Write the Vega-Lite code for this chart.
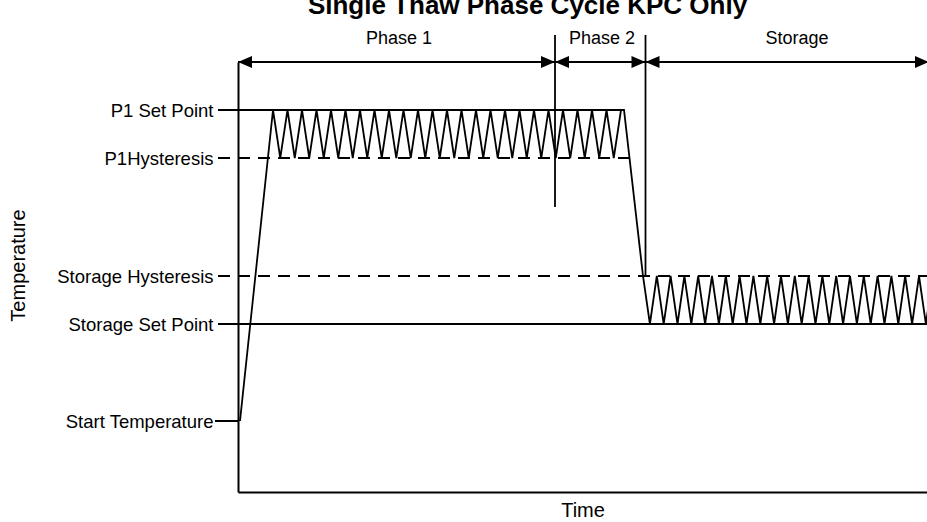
{
  "$schema": "https://vega.github.io/schema/vega-lite/v6.json",
  "width": 689,
  "height": 430,
  "autosize": {"type": "none"},
  "padding": {"left": 238, "top": 62, "right": 0, "bottom": 30},
  "background": "white",
  "config": {"view": {"stroke": null}, "font": "Liberation Sans", "axis": {"grid": false}},
  "title": {"text": "Single Thaw Phase Cycle KPC Only", "fontSize": 26, "fontWeight": "bold", "color": "#000", "anchor": "middle", "dx": -55, "dy": 29, "offset": 19, "baseline": "alphabetic", "font": "Liberation Sans"},
  "datasets": {
    "refs": [
      {"x": -20, "x2": 386, "y": 382, "style": "solid"},
      {"x": -20, "x2": 391, "y": 334, "style": "dashed"},
      {"x": -20, "x2": 689, "y": 216, "style": "dashed"},
      {"x": -20, "x2": 689, "y": 168, "style": "solid"},
      {"x": -23, "x2": 0, "y": 71, "style": "solid"},
      {"x": 0, "x2": 692, "y": 430, "style": "solid"}
    ],
    "vlines": [
      {"x": 317, "y": 285, "y2": 457},
      {"x": 407.5, "y": 216, "y2": 457}
    ],
    "arrows": [
      {"x": 0, "y": 430, "dir": "left"},
      {"x": 317, "y": 430, "dir": "right"},
      {"x": 317, "y": 430, "dir": "left"},
      {"x": 407.5, "y": 430, "dir": "right"},
      {"x": 407.5, "y": 430, "dir": "left"},
      {"x": 691, "y": 430, "dir": "right"}
    ],
    "phases": [
      {"x": 161, "y": 448, "label": "Phase 1"},
      {"x": 364, "y": 448, "label": "Phase 2"},
      {"x": 559, "y": 448, "label": "Storage"}
    ],
    "profile": [
      {"x": 2, "y": 71}, {"x": 35, "y": 382},
      {"x": 42.25, "y": 334}, {"x": 49.5, "y": 382}, {"x": 56.75, "y": 334}, {"x": 64, "y": 382},
      {"x": 71.25, "y": 334}, {"x": 78.5, "y": 382}, {"x": 85.75, "y": 334}, {"x": 93, "y": 382},
      {"x": 100.25, "y": 334}, {"x": 107.5, "y": 382}, {"x": 114.75, "y": 334}, {"x": 122, "y": 382},
      {"x": 129.25, "y": 334}, {"x": 136.5, "y": 382}, {"x": 143.75, "y": 334}, {"x": 151, "y": 382},
      {"x": 158.25, "y": 334}, {"x": 165.5, "y": 382}, {"x": 172.75, "y": 334}, {"x": 180, "y": 382},
      {"x": 187.25, "y": 334}, {"x": 194.5, "y": 382}, {"x": 201.75, "y": 334}, {"x": 209, "y": 382},
      {"x": 216.25, "y": 334}, {"x": 223.5, "y": 382}, {"x": 230.75, "y": 334}, {"x": 238, "y": 382},
      {"x": 245.25, "y": 334}, {"x": 252.5, "y": 382}, {"x": 259.75, "y": 334}, {"x": 267, "y": 382},
      {"x": 274.25, "y": 334}, {"x": 281.5, "y": 382}, {"x": 288.75, "y": 334}, {"x": 296, "y": 382},
      {"x": 303.25, "y": 334}, {"x": 310.5, "y": 382}, {"x": 317.75, "y": 334}, {"x": 325, "y": 382},
      {"x": 332.25, "y": 334}, {"x": 339.5, "y": 382}, {"x": 346.75, "y": 334}, {"x": 354, "y": 382},
      {"x": 361.25, "y": 334}, {"x": 368.5, "y": 382}, {"x": 375.75, "y": 334}, {"x": 383, "y": 382},
      {"x": 386, "y": 382}, {"x": 405, "y": 216},
      {"x": 411.9, "y": 168}, {"x": 418.8, "y": 216}, {"x": 425.7, "y": 168}, {"x": 432.6, "y": 216},
      {"x": 439.5, "y": 168}, {"x": 446.4, "y": 216}, {"x": 453.3, "y": 168}, {"x": 460.2, "y": 216},
      {"x": 467.1, "y": 168}, {"x": 474, "y": 216}, {"x": 480.9, "y": 168}, {"x": 487.8, "y": 216},
      {"x": 494.7, "y": 168}, {"x": 501.6, "y": 216}, {"x": 508.5, "y": 168}, {"x": 515.4, "y": 216},
      {"x": 522.3, "y": 168}, {"x": 529.2, "y": 216}, {"x": 536.1, "y": 168}, {"x": 543, "y": 216},
      {"x": 549.9, "y": 168}, {"x": 556.8, "y": 216}, {"x": 563.7, "y": 168}, {"x": 570.6, "y": 216},
      {"x": 577.5, "y": 168}, {"x": 584.4, "y": 216}, {"x": 591.3, "y": 168}, {"x": 598.2, "y": 216},
      {"x": 605.1, "y": 168}, {"x": 612, "y": 216}, {"x": 618.9, "y": 168}, {"x": 625.8, "y": 216},
      {"x": 632.7, "y": 168}, {"x": 639.6, "y": 216}, {"x": 646.5, "y": 168}, {"x": 653.4, "y": 216},
      {"x": 660.3, "y": 168}, {"x": 667.2, "y": 216}, {"x": 674.1, "y": 168}, {"x": 681, "y": 216},
      {"x": 687.9, "y": 168}, {"x": 694.8, "y": 216}, {"x": 701.7, "y": 168}
    ]
  },
  "encoding": {
    "x": {
      "field": "x", "type": "quantitative",
      "scale": {"domain": [0, 689], "nice": false, "zero": false},
      "axis": {"ticks": false, "labels": false, "domainColor": "#000", "domainWidth": 2, "title": "Time", "titleFontSize": 20, "titleFontWeight": "normal", "titleColor": "#000", "titlePadding": 8, "titleFont": "Liberation Sans"}
    },
    "y": {
      "field": "y", "type": "quantitative",
      "scale": {"domain": [0, 430], "nice": false, "zero": false},
      "axis": {
        "values": [71, 168, 216, 334, 382],
        "labelExpr": "datum.value == 382 ? 'P1 Set Point' : datum.value == 334 ? 'P1Hysteresis' : datum.value == 216 ? 'Storage Hysteresis' : datum.value == 168 ? 'Storage Set Point' : 'Start Temperature'",
        "ticks": false, "labelPadding": 25, "labelFontSize": 18.5, "labelFont": "Liberation Sans", "labelColor": "#000",
        "labelOverlap": false, "labelFlush": false, "labelBound": false,
        "domainColor": "#000", "domainWidth": 2,
        "title": "Temperature", "titleFontSize": 20, "titleFontWeight": "normal", "titleColor": "#000", "titleFont": "Liberation Sans",
        "titleX": -220, "titleY": 203, "titleAngle": -90, "titleBaseline": "middle", "titleAlign": "center"
      }
    }
  },
  "layer": [
    {
      "data": {"name": "refs"},
      "mark": {"type": "rule", "color": "#000", "strokeWidth": 1.8},
      "encoding": {
        "x2": {"field": "x2"},
        "strokeDash": {"field": "style", "type": "nominal", "scale": {"domain": ["solid", "dashed"], "range": [[1, 0], [12, 8]]}, "legend": null}
      }
    },
    {
      "data": {"name": "vlines"},
      "mark": {"type": "rule", "color": "#000", "strokeWidth": 1.8},
      "encoding": {"y2": {"field": "y2"}}
    },
    {
      "data": {"name": "profile"},
      "mark": {"type": "line", "color": "#000", "strokeWidth": 1.8},
      "encoding": {}
    },
    {
      "data": {"name": "arrows"},
      "mark": {"type": "point", "filled": true, "color": "#000", "opacity": 1, "size": 196, "strokeWidth": 0},
      "encoding": {
        "shape": {"field": "dir", "type": "nominal", "scale": {"domain": ["left", "right"], "range": ["M0,0L2,-0.86L2,0.86Z", "M0,0L-2,-0.86L-2,0.86Z"]}, "legend": null}
      }
    },
    {
      "data": {"name": "phases"},
      "mark": {"type": "text", "fontSize": 18, "color": "#000", "baseline": "alphabetic", "align": "center", "font": "Liberation Sans"},
      "encoding": {"text": {"field": "label"}}
    }
  ]
}
